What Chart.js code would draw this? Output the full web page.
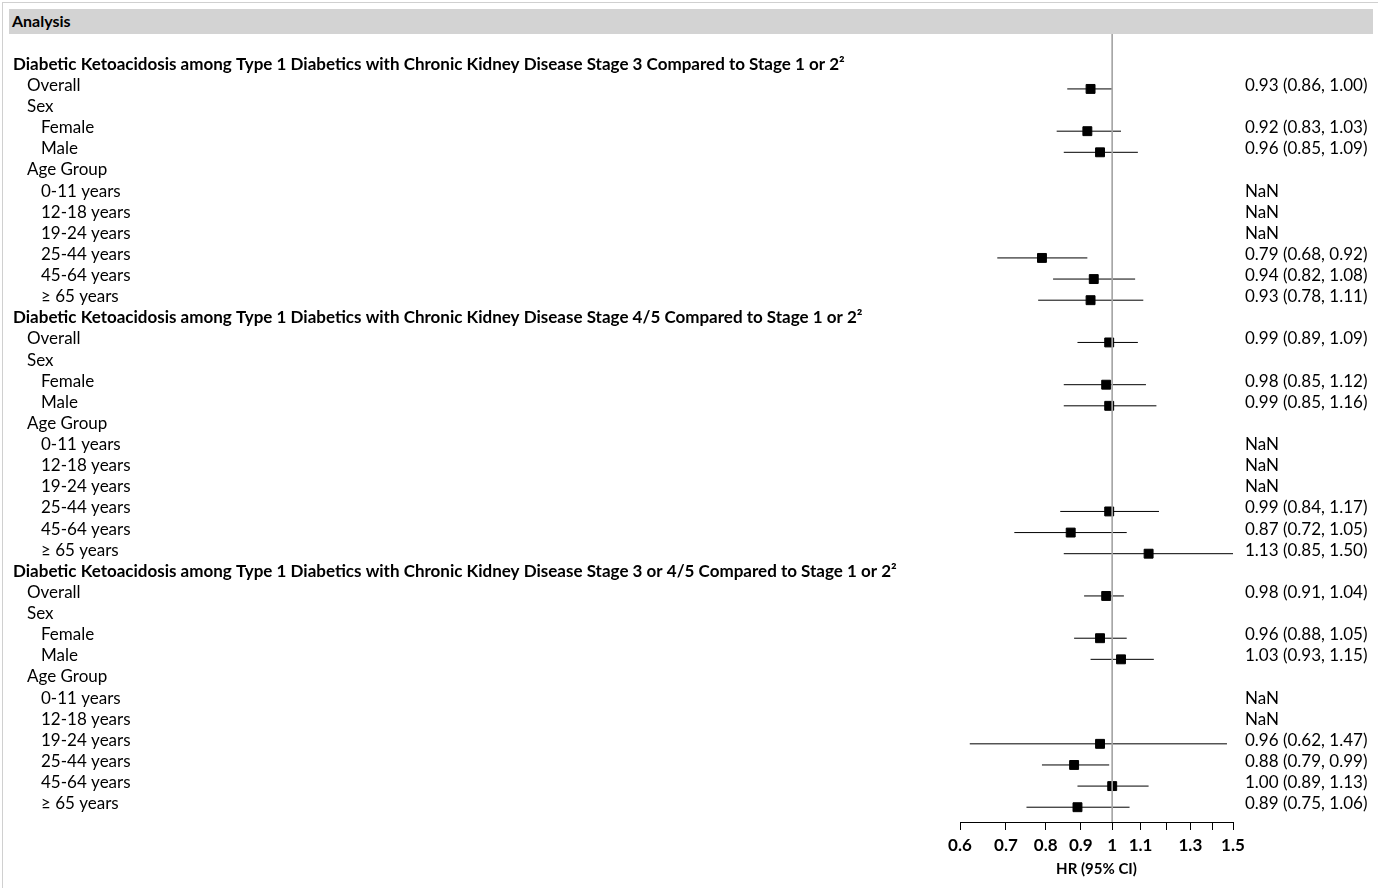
<!DOCTYPE html>
<html>
<head>
<meta charset="utf-8">
<title>Forest plot</title>
<script src="https://cdn.jsdelivr.net/npm/chart.js@4/dist/chart.umd.min.js"></script>
<style>
  body { margin: 0; background: #fff; }
  #wrap { position: relative; width: 1378px; height: 888px; }
  #frame { position: absolute; left: 2px; top: 2px; right: 0; bottom: 0; border-left: 1px solid #d0d0d0; border-top: 1px solid #d0d0d0; }
  #header { position: absolute; left: 9px; top: 9px; width: 1364px; height: 25px; background: #d3d3d3;
            font: bold 16px Lato, sans-serif; color: #000; line-height: 23px; padding-left: 3px; box-sizing: border-box; }
  canvas { position: absolute; left: 0; top: 0; }
</style>
</head>
<body>
<div id="wrap">
  <div id="frame"></div>
  <div id="header">Analysis</div>
  <canvas id="forest" width="1378" height="888"></canvas>
</div>
<script>
// row labels (level 0 = heading, bold)
const rowLabels = [
  'Diabetic Ketoacidosis among Type 1 Diabetics with Chronic Kidney Disease Stage 3 Compared to Stage 1 or 2\u00B2',
  'Overall', 'Sex', 'Female', 'Male', 'Age Group',
  '0-11 years', '12-18 years', '19-24 years', '25-44 years', '45-64 years', '\u2265 65 years',
  'Diabetic Ketoacidosis among Type 1 Diabetics with Chronic Kidney Disease Stage 4/5 Compared to Stage 1 or 2\u00B2',
  'Overall', 'Sex', 'Female', 'Male', 'Age Group',
  '0-11 years', '12-18 years', '19-24 years', '25-44 years', '45-64 years', '\u2265 65 years',
  'Diabetic Ketoacidosis among Type 1 Diabetics with Chronic Kidney Disease Stage 3 or 4/5 Compared to Stage 1 or 2\u00B2',
  'Overall', 'Sex', 'Female', 'Male', 'Age Group',
  '0-11 years', '12-18 years', '19-24 years', '25-44 years', '45-64 years', '\u2265 65 years'
];
const rowLevels = [
  0, 1, 1, 2, 2, 1, 2, 2, 2, 2, 2, 2,
  0, 1, 1, 2, 2, 1, 2, 2, 2, 2, 2, 2,
  0, 1, 1, 2, 2, 1, 2, 2, 2, 2, 2, 2
];

// hazard ratios and 95% CI (null = label row, NaN = no estimate)
const hr = [
  null, 0.93, null, 0.92, 0.96, null, NaN, NaN, NaN, 0.79, 0.94, 0.93,
  null, 0.99, null, 0.98, 0.99, null, NaN, NaN, NaN, 0.99, 0.87, 1.13,
  null, 0.98, null, 0.96, 1.03, null, NaN, NaN, 0.96, 0.88, 1.00, 0.89
];
const ciLow = [
  null, 0.86, null, 0.83, 0.85, null, NaN, NaN, NaN, 0.68, 0.82, 0.78,
  null, 0.89, null, 0.85, 0.85, null, NaN, NaN, NaN, 0.84, 0.72, 0.85,
  null, 0.91, null, 0.88, 0.93, null, NaN, NaN, 0.62, 0.79, 0.89, 0.75
];
const ciHigh = [
  null, 1.00, null, 1.03, 1.09, null, NaN, NaN, NaN, 0.92, 1.08, 1.11,
  null, 1.09, null, 1.12, 1.16, null, NaN, NaN, NaN, 1.17, 1.05, 1.50,
  null, 1.04, null, 1.05, 1.15, null, NaN, NaN, 1.47, 0.99, 1.13, 1.06
];

const xTicks = [0.6, 0.7, 0.8, 0.9, 1, 1.1, 1.2, 1.3, 1.4, 1.5];
const xTickLabels = ['0.6', '0.7', '0.8', '0.9', '1', '1.1', '', '1.3', '', '1.5'];

const FONT = 'Lato, "Open Sans", sans-serif';
const yMin = -1.6, yMax = 35.7;

function fmt(v) { return v.toFixed(2); }

const rightText = hr.map((v, i) => {
  if (v === null) return '';
  if (isNaN(v)) return 'NaN';
  return fmt(v) + ' (' + fmt(ciLow[i]) + ', ' + fmt(ciHigh[i]) + ')';
});

const points = [];
const ciSegments = [];
hr.forEach((v, i) => {
  if (v === null || isNaN(v)) return;
  points.push({ x: v, y: i });
  ciSegments.push({ x: ciLow[i], y: i }, { x: ciHigh[i], y: i }, { x: null, y: null });
});

const rowTicks = scale => { scale.ticks = rowLabels.map((_, i) => ({ value: i })); };

// left-hand row labels, positioned with the y scale
const rowLabelPlugin = {
  id: 'rowLabels',
  afterDraw(chart) {
    const ctx = chart.ctx;
    const y = chart.scales.y;
    ctx.save();
    ctx.fillStyle = '#000';
    ctx.textBaseline = 'middle';
    ctx.textAlign = 'left';
    rowLabels.forEach((t, i) => {
      const lvl = rowLevels[i];
      ctx.font = (lvl === 0 ? 'bold ' : '') + '17px ' + FONT;
      ctx.fillText(t, 13 + lvl * 14, y.getPixelForValue(i) - 3.5);
    });
    ctx.restore();
  }
};

new Chart(document.getElementById('forest'), {
  type: 'scatter',
  data: {
    datasets: [
      {
        label: 'ref',
        type: 'line',
        data: [{ x: 1, y: yMin }, { x: 1, y: yMax }],
        borderColor: '#a6a6a6',
        borderWidth: 1,
        pointRadius: 0
      },
      {
        label: 'CI',
        type: 'line',
        data: ciSegments,
        borderColor: '#000',
        borderWidth: 1,
        pointRadius: 0,
        spanGaps: false
      },
      {
        label: 'HR',
        data: points,
        pointStyle: 'rect',
        pointRadius: 6.3,
        backgroundColor: '#000',
        borderColor: '#000',
        borderWidth: 1
      }
    ]
  },
  options: {
    responsive: false,
    animation: false,
    layout: { padding: { left: 960, top: 34, bottom: 6, right: 0 } },
    plugins: { legend: { display: false }, tooltip: { enabled: false } },
    scales: {
      x: {
        type: 'logarithmic',
        min: 0.6,
        max: 1.5,
        afterBuildTicks: scale => { scale.ticks = xTicks.map(v => ({ value: v })); },
        afterFit: scale => { scale.height = 60; },
        border: { color: '#000', width: 1 },
        grid: { drawOnChartArea: false, drawTicks: true, tickLength: 8, color: '#000' },
        ticks: {
          autoSkip: false,
          maxRotation: 0,
          padding: 5,
          color: '#000',
          font: { family: FONT, size: 17, weight: 'bold' },
          callback: (v, i) => xTickLabels[i]
        },
        title: {
          display: true,
          text: 'HR (95% CI)',
          color: '#000',
          font: { family: FONT, size: 15, weight: 'bold' },
          padding: { top: 2, bottom: 4 }
        }
      },
      y: {
        type: 'linear',
        reverse: true,
        min: yMin,
        max: yMax,
        display: false,
        afterBuildTicks: rowTicks
      },
      y2: {
        type: 'linear',
        position: 'right',
        reverse: true,
        min: yMin,
        max: yMax,
        afterBuildTicks: rowTicks,
        afterFit: scale => { scale.width = 145; },
        border: { display: false },
        grid: { display: false, drawTicks: false },
        ticks: {
          autoSkip: false,
          padding: 12,
          labelOffset: -3.5,
          crossAlign: 'near',
          color: '#000',
          font: { family: FONT, size: 17 },
          callback: v => rightText[v]
        }
      }
    }
  },
  plugins: [rowLabelPlugin]
});
</script>
</body>
</html>
